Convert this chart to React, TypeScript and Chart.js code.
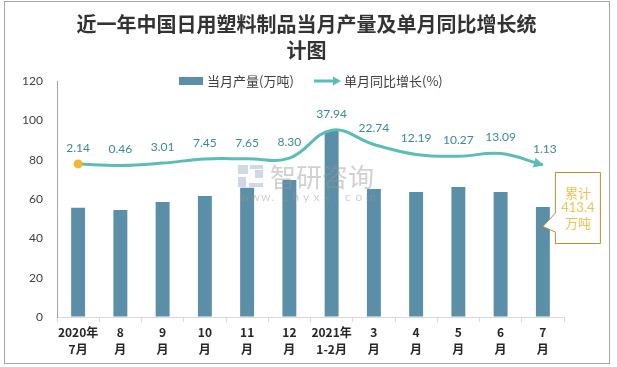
import React, { useEffect, useRef } from "react";
import { Chart, registerables } from "chart.js";

Chart.register(...registerables);

const categories: string[][] = [
  ["2020年", "7月"], ["8", "月"], ["9", "月"], ["10", "月"], ["11", "月"], ["12", "月"],
  ["2021年", "1-2月"], ["3", "月"], ["4", "月"], ["5", "月"], ["6", "月"], ["7", "月"],
];
const monthlyOutput: number[] = [55.6, 54.4, 58.5, 61.5, 65.7, 69.6, 94.7, 65.1, 63.5, 66.1, 63.5, 55.9];
const yoyGrowth: number[] = [2.14, 0.46, 3.01, 7.45, 7.65, 8.3, 37.94, 22.74, 12.19, 10.27, 13.09, 1.13];
const yTicks: number[] = [0, 20, 40, 60, 80, 100, 120];
const titleLines: string[] = ["近一年中国日用塑料制品当月产量及单月同比增长统", "计图"];
const legendLabels: string[] = ["当月产量(万吨)", "单月同比增长(%)"];
const noteLines: string[] = ["累计", "413.4", "万吨"];

const BAR = "#5b8fa7";
const LINE = "#5bbdb5";
const LABEL = "#3a8a95";
const FONT = 'Lato, "Noto Sans CJK SC", sans-serif';
const CJK = '"Noto Sans CJK SC", sans-serif';

const decorPlugin = {
  id: "decor",
  beforeDraw(chart: any) {
    const { ctx, width, height } = chart;
    ctx.save();
    ctx.fillStyle = "#ffffff";
    ctx.fillRect(0, 0, width, height);
    ctx.strokeStyle = "#a6a6a6";
    ctx.lineWidth = 1;
    ctx.strokeRect(4.5, 1.5, 605, 362);
    // title
    ctx.fillStyle = "#333333";
    ctx.font = "bold 20px " + CJK;
    ctx.textAlign = "center";
    ctx.textBaseline = "middle";
    ctx.fillText(titleLines[0], 306.5, 24);
    ctx.fillText(titleLines[1], 306.5, 50);
    // legend
    ctx.font = "13px " + CJK;
    ctx.textAlign = "left";
    ctx.fillStyle = BAR;
    ctx.fillRect(179, 77, 24, 8);
    ctx.fillStyle = "#404040";
    ctx.fillText(legendLabels[0], 207, 81);
    ctx.strokeStyle = LINE;
    ctx.lineWidth = 3;
    ctx.beginPath();
    ctx.moveTo(314, 81);
    ctx.lineTo(334, 81);
    ctx.stroke();
    ctx.fillStyle = LINE;
    ctx.beginPath();
    ctx.moveTo(341, 81);
    ctx.lineTo(333, 76.5);
    ctx.lineTo(333, 85.5);
    ctx.closePath();
    ctx.fill();
    ctx.fillStyle = "#404040";
    ctx.fillText(legendLabels[1], 344, 81);
    ctx.restore();
  },
  afterDatasetsDraw(chart: any) {
    const { ctx } = chart;
    const xs = chart.scales.x;
    const ys = chart.scales.y;
    ctx.save();
    // watermark
    ctx.fillStyle = "rgba(120,140,185,0.35)";
    ctx.fillRect(238, 165, 10, 9);
    ctx.fillRect(250, 165, 13, 4);
    ctx.fillRect(255, 170, 8, 8);
    ctx.fillRect(238, 177, 8, 10);
    ctx.fillRect(249, 183, 14, 4);
    ctx.fillStyle = "rgba(150,150,150,0.45)";
    ctx.font = "26px " + CJK;
    ctx.textAlign = "left";
    ctx.textBaseline = "middle";
    ctx.fillText("智研咨询", 270, 177);
    ctx.font = "12px " + FONT;
    const wm = "www.chyxx.com";
    for (let i = 0; i < wm.length; i++) {
      ctx.fillText(wm[i], 240 + i * 10.5, 197);
    }
    // line labels
    const meta = chart.getDatasetMeta(0);
    ctx.fillStyle = LABEL;
    ctx.font = "12px " + FONT;
    ctx.textAlign = "center";
    meta.data.forEach((pt: any, i: number) => {
      const dx = i === meta.data.length - 1 ? 2 : 0;
      ctx.fillText(yoyGrowth[i].toFixed(2), pt.x + dx, pt.y - 16);
    });
    // arrow head at end
    const last = meta.data[meta.data.length - 1];
    let dx = last.x - (last.cp1x ?? last.x - 1);
    let dy = last.y - (last.cp1y ?? last.y);
    const len = Math.hypot(dx, dy) || 1;
    dx /= len; dy /= len;
    const tipX = last.x + dx * 1;
    const tipY = last.y + dy * 1;
    const bx = tipX - dx * 10;
    const by = tipY - dy * 10;
    ctx.fillStyle = LINE;
    ctx.beginPath();
    ctx.moveTo(tipX, tipY);
    ctx.lineTo(bx - dy * 5, by + dx * 5);
    ctx.lineTo(bx + dy * 5, by - dx * 5);
    ctx.closePath();
    ctx.fill();
    // note callout
    const tx = xs.getPixelForValue(categories.length - 1);
    const ty = ys.getPixelForValue(46);
    const left = tx + 12;
    ctx.fillStyle = "#ffffff";
    ctx.strokeStyle = "#b8902a";
    ctx.lineWidth = 1;
    ctx.beginPath();
    ctx.moveTo(left + 0.5, 172.5);
    ctx.lineTo(left + 45.5, 172.5);
    ctx.lineTo(left + 45.5, 243.5);
    ctx.lineTo(left + 0.5, 243.5);
    ctx.lineTo(left + 0.5, ty + 5.5);
    ctx.lineTo(tx, ty);
    ctx.lineTo(left + 0.5, ty - 13.5);
    ctx.closePath();
    ctx.fill();
    ctx.stroke();
    ctx.fillStyle = "#f2c14e";
    ctx.font = "13px " + CJK;
    ctx.fillText(noteLines[0], left + 23, 193);
    ctx.font = "13px " + FONT;
    ctx.fillText(noteLines[1], left + 23, 208);
    ctx.font = "13px " + CJK;
    ctx.fillText(noteLines[2], left + 23, 223);
    ctx.restore();
  },
};

export default function App() {
  const ref = useRef<HTMLCanvasElement | null>(null);
  useEffect(() => {
    document.body.style.margin = "0";
    if (!ref.current) return;
    const chart = new Chart(ref.current, {
      type: "bar",
      data: {
        labels: categories as any,
        datasets: [
          {
            type: "line",
            label: legendLabels[1],
            data: yoyGrowth,
            yAxisID: "y1",
            borderColor: LINE,
            borderWidth: 3,
            tension: 0.4,
            pointRadius: (c: any) => (c.dataIndex === 0 ? 4.5 : 0),
            pointBackgroundColor: "#f5b730",
            pointBorderWidth: 0,
            order: 0,
          } as any,
          {
            type: "bar",
            label: legendLabels[0],
            data: monthlyOutput,
            backgroundColor: BAR,
            barPercentage: 0.33,
            categoryPercentage: 1,
            order: 1,
          },
        ],
      },
      options: {
        animation: false,
        responsive: false,
        layout: { padding: { top: 81, right: 53, left: 0, bottom: 0 } },
        plugins: { legend: { display: false }, title: { display: false }, tooltip: { enabled: false } },
        scales: {
          x: {
            grid: { display: true, drawOnChartArea: false, drawTicks: true, tickLength: 5, color: "#d9d9d9", offset: true },
            border: { display: true, color: "#d9d9d9" },
            ticks: {
              color: "#262626",
              font: { family: CJK, size: 12, weight: "bold", lineHeight: 1.4 },
              padding: 2,
              maxRotation: 0,
              autoSkip: false,
            },
            afterFit: (s: any) => { s.height = 50; },
          },
          y: {
            min: 0,
            max: 120,
            afterBuildTicks: (s: any) => { s.ticks = yTicks.map((v) => ({ value: v })); },
            grid: { display: true, drawOnChartArea: false, drawTicks: false },
            border: { display: true, color: "#a6a6a6" },
            ticks: { color: "#404040", font: { family: FONT, size: 12 }, padding: 14 },
            afterFit: (s: any) => { s.width = 57; },
          },
          y1: { display: false, min: -160, max: 90 },
        },
      },
      plugins: [decorPlugin],
    });
    return () => chart.destroy();
  }, []);
  return <canvas ref={ref} width={617} height={367} style={{ display: "block" }} />;
}
